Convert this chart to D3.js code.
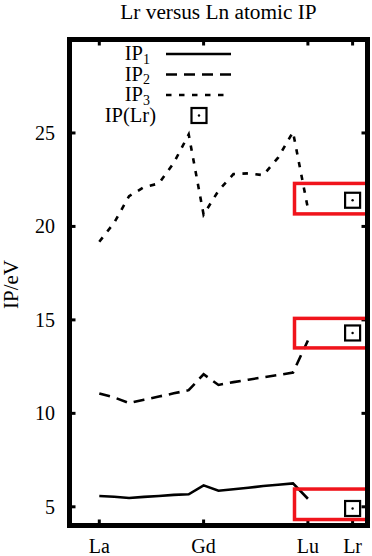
<!DOCTYPE html>
<html>
<head>
<meta charset="utf-8">
<script src="https://cdn.jsdelivr.net/npm/d3@7"></script>
<style>
  body { margin: 0; background: #fff; }
</style>
</head>
<body>
<script>
/* Lanthanides, atomic numbers La (57) .. Lu (71) */
var lnZ = [57, 58, 59, 60, 61, 62, 63, 64, 65, 66, 67, 68, 69, 70, 71]

/* ionisation potentials in eV */
var ip1 = [5.58, 5.54, 5.47, 5.53, 5.58, 5.64, 5.67, 6.15, 5.86, 5.94, 6.02, 6.11, 6.18, 6.25, 5.43]
var ip2 = [11.06, 10.85, 10.55, 10.73, 10.90, 11.07, 11.24, 12.09, 11.52, 11.67, 11.80, 11.93, 12.05, 12.18, 13.90]
var ip3 = [19.18, 20.20, 21.62, 22.10, 22.30, 23.40, 24.92, 20.63, 21.91, 22.80, 22.84, 22.74, 23.68, 25.05, 20.96]

/* Lr points */
var lrZ = 74
var lrIP = [4.91, 14.30, 21.40]

/* red highlight boxes [x0, x1, yLow, yHigh] in data units */
var boxes = [[70, 75, 20.67, 22.30], [70, 75, 13.50, 15.08], [70, 75, 4.32, 5.95]]

var xTickZ = [57, 64, 71, 74]
var xTickLabels = ["La", "Gd", "Lu", "Lr"]
var yTicks = [5, 10, 15, 20, 25]

var legendNames = [["IP", "1"], ["IP", "2"], ["IP", "3"]]
var dashes = [null, "11,7", "5.5,7.5"]

var FONT = "'Liberation Serif', 'Times New Roman', Times, 'DejaVu Serif', serif"

function main()
{
  var W = 372, H = 556
  var frame = {left: 69.5, right: 367.5, top: 39.5, bottom: 525.5}

  var x = d3.scaleLinear().domain([55, 75]).range([frame.left, frame.right])
  var y = d3.scaleLinear().domain([4, 30]).range([frame.bottom, frame.top])

  var svg = d3.select("body")
    .append("svg")
    .attr("width", W)
    .attr("height", H)
    .attr("font-family", FONT)
    .attr("font-size", 18)

  /* title and axis label */
  svg.append("text")
    .attr("x", (frame.left + frame.right) / 2)
    .attr("y", 18.5)
    .attr("font-size", 21.3)
    .attr("text-anchor", "middle")
    .text("Lr versus Ln atomic IP")

  svg.append("text")
    .attr("transform", "translate(18," + ((frame.top + frame.bottom) / 2 + 2) + ") rotate(-90)")
    .attr("font-size", 21)
    .attr("text-anchor", "middle")
    .text("IP/eV")

  /* ticks drawn inward on all four sides */
  var ticks = svg.append("g").attr("stroke", "#000").attr("stroke-width", 3)
  xTickZ.forEach(function(z) {
    ticks.append("line").attr("x1", x(z)).attr("x2", x(z)).attr("y1", frame.bottom).attr("y2", frame.bottom - 6)
    ticks.append("line").attr("x1", x(z)).attr("x2", x(z)).attr("y1", frame.top).attr("y2", frame.top + 6)
  })
  yTicks.forEach(function(v) {
    ticks.append("line").attr("x1", frame.left).attr("x2", frame.left + 6).attr("y1", y(v)).attr("y2", y(v))
    ticks.append("line").attr("x1", frame.right).attr("x2", frame.right - 6).attr("y1", y(v)).attr("y2", y(v))
  })

  svg.append("g").selectAll("text")
    .data(xTickZ)
    .enter()
    .append("text")
    .attr("x", function(d) { return x(d) })
    .attr("y", 553)
    .attr("font-size", 20)
    .attr("text-anchor", "middle")
    .text(function(d, i) { return xTickLabels[i] })

  svg.append("g").selectAll("text")
    .data(yTicks)
    .enter()
    .append("text")
    .attr("x", 55)
    .attr("y", function(d) { return y(d) + 7 })
    .attr("font-size", 20)
    .attr("text-anchor", "end")
    .text(function(d) { return d })

  /* the three IP lines */
  var line = d3.line()
    .x(function(d, i) { return x(lnZ[i]) })
    .y(function(d) { return y(d) })

  svg.append("g").selectAll("path")
    .data([ip1, ip2, ip3])
    .enter()
    .append("path")
    .attr("d", line)
    .attr("fill", "none")
    .attr("stroke", "#000")
    .attr("stroke-width", 2.6)
    .attr("stroke-dasharray", function(d, i) { return dashes[i] })

  /* red boxes */
  svg.append("g").selectAll("rect")
    .data(boxes)
    .enter()
    .append("rect")
    .attr("x", function(b) { return x(b[0]) + 1.5 })
    .attr("y", function(b) { return y(b[3]) })
    .attr("width", function(b) { return x(b[1]) - x(b[0]) - 1.5 })
    .attr("height", function(b) { return y(b[2]) - y(b[3]) })
    .attr("fill", "none")
    .attr("stroke", "#f0141c")
    .attr("stroke-width", 3.5)

  /* Lr markers */
  lrIP.forEach(function(v) {
    addMarker(svg, x(lrZ), y(v))
  })

  /* frame on top */
  svg.append("rect")
    .attr("x", frame.left)
    .attr("y", frame.top)
    .attr("width", frame.right - frame.left)
    .attr("height", frame.bottom - frame.top)
    .attr("fill", "none")
    .attr("stroke", "#000")
    .attr("stroke-width", 5)

  /* legend */
  var leg = svg.append("g").attr("font-size", 20.5)
  legendNames.forEach(function(n, i) {
    var ly = 54 + i * 20.5
    var t = leg.append("text")
      .attr("x", 150)
      .attr("y", ly + 6)
      .attr("text-anchor", "end")
    t.append("tspan").text(n[0])
    t.append("tspan").attr("dy", 3.5).attr("font-size", 14).text(n[1])

    leg.append("line")
      .attr("x1", 166).attr("x2", 231)
      .attr("y1", ly).attr("y2", ly)
      .attr("stroke", "#000")
      .attr("stroke-width", 2.6)
      .attr("stroke-dasharray", dashes[i])
  })
  leg.append("text")
    .attr("x", 156)
    .attr("y", 54 + 3 * 20.5 + 6.5)
    .attr("text-anchor", "end")
    .text("IP(Lr)")
  addMarker(leg, 199, 54 + 3 * 20.5)
}

/* square with a dot, the gnuplot point type used for Lr */
function addMarker(g, cx, cy)
{
  g.append("rect")
    .attr("x", cx - 7.5)
    .attr("y", cy - 7.5)
    .attr("width", 15)
    .attr("height", 15)
    .attr("fill", "none")
    .attr("stroke", "#000")
    .attr("stroke-width", 2.2)
  g.append("circle")
    .attr("cx", cx)
    .attr("cy", cy)
    .attr("r", 1.2)
    .attr("fill", "#000")
}

main()
</script>
</body>
</html>
